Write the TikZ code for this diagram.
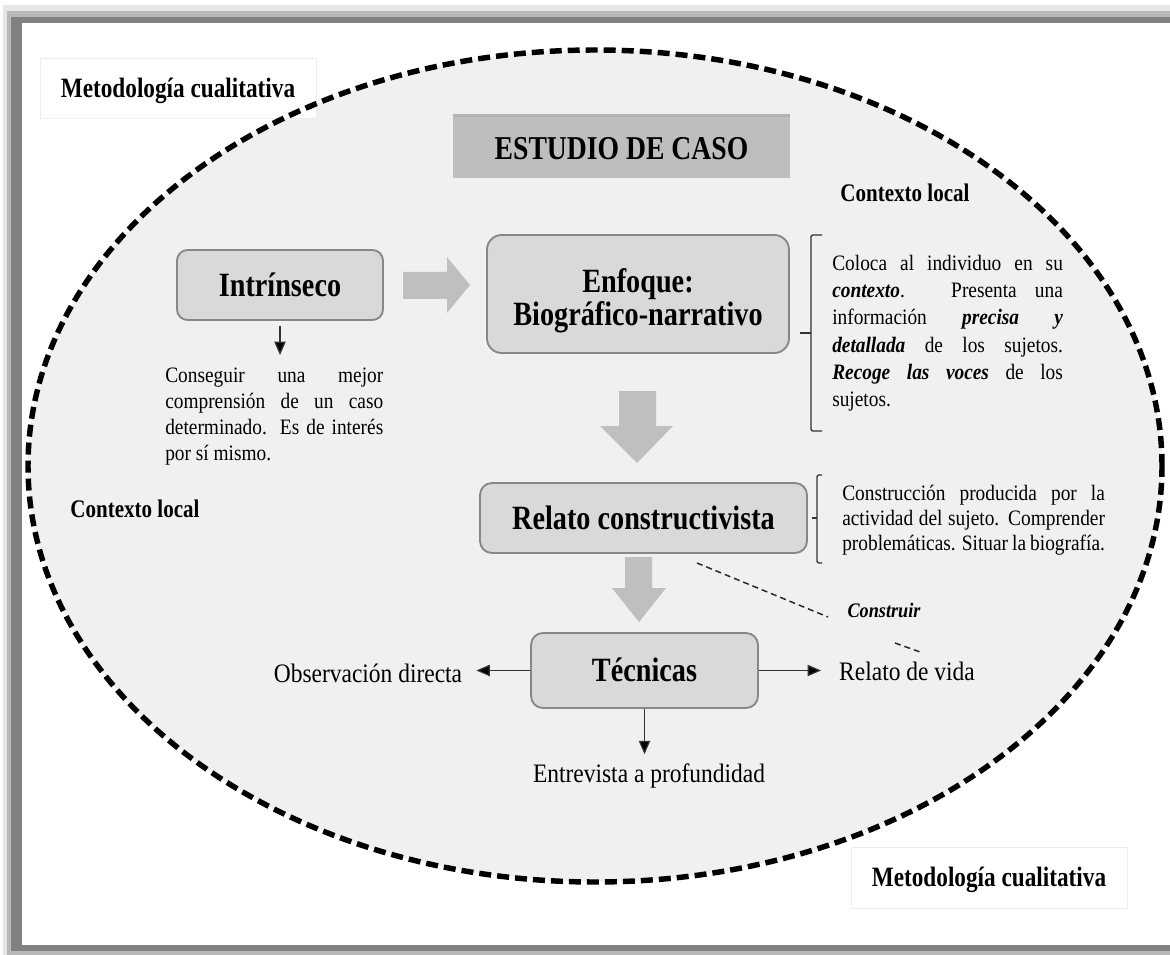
\documentclass[tikz,border=0pt]{standalone}
\usepackage{fontspec}
\setmainfont{Liberation Serif}[FakeStretch=0.88]
\newfontfamily\hdfont{Liberation Serif}[FakeStretch=0.83]
\usetikzlibrary{arrows.meta,shadows}
\definecolor{ellfill}{HTML}{F0F0F0}
\definecolor{boxfill}{HTML}{D9D9D9}
\definecolor{boxline}{HTML}{878787}
\definecolor{blockgray}{HTML}{BFBFBF}
\definecolor{estgray}{HTML}{BEBEBE}
\definecolor{framegray}{HTML}{808080}
\hyphenpenalty=10000
\exhyphenpenalty=10000
\tolerance=10000
\tikzset{
  rboxbase/.style={draw=boxline, line width=1.4pt, fill=boxfill, rounded corners=8pt, inner sep=0pt,
    font=\hdfont\bfseries\fontsize{25.5pt}{24.75pt}\selectfont},
  rbox/.style={rboxbase, text height=16.9pt, text depth=0pt},
  mbox/.style={draw=black!7, fill=white, inner sep=0pt, minimum width=207pt, minimum height=45pt,
    font=\hdfont\bfseries\fontsize{21pt}{24pt}\selectfont, text height=13.9pt, text depth=0pt},
  estbox/.style={fill=estgray, inner sep=0pt, minimum width=252.75pt, minimum height=45.75pt,
    font=\hdfont\bfseries\fontsize{25pt}{28pt}\selectfont, text height=16.55pt, text depth=0pt,
    drop shadow={shadow xshift=0pt, shadow yshift=2.5pt, opacity=0.55, fill=black!50}},
  ctx/.style={inner sep=0pt, font=\hdfont\bfseries\fontsize{19pt}{22pt}\selectfont},
  para/.style={inner sep=0pt, align=justify},
  big/.style={inner sep=0pt, font=\fontsize{20pt}{24pt}\selectfont},
  cons/.style={inner sep=0pt, font=\bfseries\itshape\fontsize{15.5pt}{18pt}\selectfont},
  arr/.style={draw=black!80, line width=0.9pt, -{Triangle[length=10pt,width=8.5pt,fill=black]}},
  brk/.style={draw=black!80, line width=1pt, rounded corners=1.5pt},
  cdash/.style={draw=black!85, line width=1.1pt, dash pattern=on 4.5pt off 3pt},
  blockarrow/.style={fill=blockgray},
}
\begin{document}
\begin{tikzpicture}[x=0.75pt,y=-0.75pt]
\useasboundingbox (0,0) rectangle (1170,955);
\clip (0,0) rectangle (1170,955);
% frame
\fill[black!10] (3,5) rectangle (1190,962);
\fill[black!28] (7,11) rectangle (1190,955);
\fill[framegray] (11,17) rectangle (1190,951);
\fill[white] (22,23) rectangle (1190,945);
% ellipse fill
\fill[ellfill] (595,466) ellipse [x radius=425.25pt, y radius=312pt];
% corner labels
\node[mbox] (met1) at (178,88) {Metodología cualitativa};
\node[mbox, minimum height=45.75pt] (met2) at (989,877.5) {Metodología cualitativa};
% dashed ellipse outline
\draw[line width=4.1pt, dash pattern=on 9pt off 4.5pt] (595,466) ellipse [x radius=425.25pt, y radius=312pt];
% title
\node[estbox] (est) at (621.5,148) {ESTUDIO DE CASO};
\node[ctx, anchor=base] (ctx1) at (905,202) {Contexto local};
\node[ctx, anchor=base] (ctx2) at (135,517) {Contexto local};
% main boxes
\node[rbox, minimum width=154.5pt, minimum height=52.5pt] (intr) at (280,285) {Intrínseco};
\node[rboxbase, rounded corners=11pt, minimum width=226.5pt, minimum height=88.5pt, align=center] (enf) at (638,294)
  {\rule{0pt}{27.4pt}Enfoque:\\Biográfico-narrativo};
\node[rbox, rounded corners=9pt, minimum width=245.25pt, minimum height=52.5pt] (rel) at (643.5,518) {Relato constructivista};
\node[rbox, rounded corners=9pt, minimum width=170.25pt, minimum height=56.25pt] (tec) at (644.5,670.5) {Técnicas};
% block arrows
\fill[blockarrow] (403,272) -- (447,272) -- (447,257) -- (470,285) -- (447,313) -- (447,299) -- (403,299) -- cycle;
\fill[blockarrow] (619,391) -- (656,391) -- (656,426) -- (673,426) -- (637,463) -- (600,426) -- (619,426) -- cycle;
\fill[blockarrow] (625,557) -- (652,557) -- (652,588) -- (666,588) -- (639,622) -- (612,588) -- (625,588) -- cycle;
% paragraphs
\node[para, text width=163.5pt, anchor=north west, font=\fontsize{16.5pt}{19.5pt}\selectfont] (intrtxt) at (165,366)
  {\rule{0pt}{12.4pt}Conseguir una mejor comprensión de un caso determinado. Es de interés por sí mismo.};
\node[para, text width=173pt, anchor=north west, font=\fontsize{16.5pt}{20.5pt}\selectfont] (enftxt) at (832,253.5)
  {\rule{0pt}{12.4pt}Coloca al individuo en su \textbf{\textit{contexto}}. Presenta una información \textbf{\textit{precisa y detallada}} de los sujetos. \textbf{\textit{Recoge las voces}} de los sujetos.};
\node[para, text width=197pt, anchor=north west, font=\fontsize{16.5pt}{18.75pt}\selectfont] (reltxt) at (842,483.5)
  {\rule{0pt}{12.4pt}Construcción producida por la actividad del sujeto. Comprender problemáticas. Situar la biografía.};
% brackets
\draw[brk] (822,235) -- (811,235) -- (811,431) -- (822,431);
\draw[brk] (811,333) -- (800,333);
\draw[brk] (822,475) -- (817,475) -- (817,563) -- (822,563);
\draw[brk] (817,518) -- (812,518);
% technique labels
\node[big, anchor=base] (obs) at (368,682) {Observación directa};
\node[big, anchor=base] (vida) at (907,680) {Relato de vida};
\node[big, anchor=base] (entr) at (649,782) {Entrevista a profundidad};
\node[cons, anchor=base] (cons) at (884,617) {Construir};
% connectors
\draw[arr, shorten <=3.75pt, shorten >=8.25pt] (intr.south) -- (intr.south |- intrtxt.north);
\draw[arr, shorten >=10.5pt] (tec.west) -- (tec.west -| obs.east);
\draw[arr, shorten >=13.5pt] (tec.east) -- (tec.east -| vida.west);
\draw[arr, shorten >=6.6pt] (tec.south) -- (tec.south |- entr.north);
\coordinate (d1) at (697,563);
\coordinate (d2) at (828,617);
\coordinate (d3) at (895,643);
\coordinate (d4) at (923,653);
\draw[cdash] (d1) -- (d2);
\draw[cdash] (d3) -- (d4);
\end{tikzpicture}
\end{document}
